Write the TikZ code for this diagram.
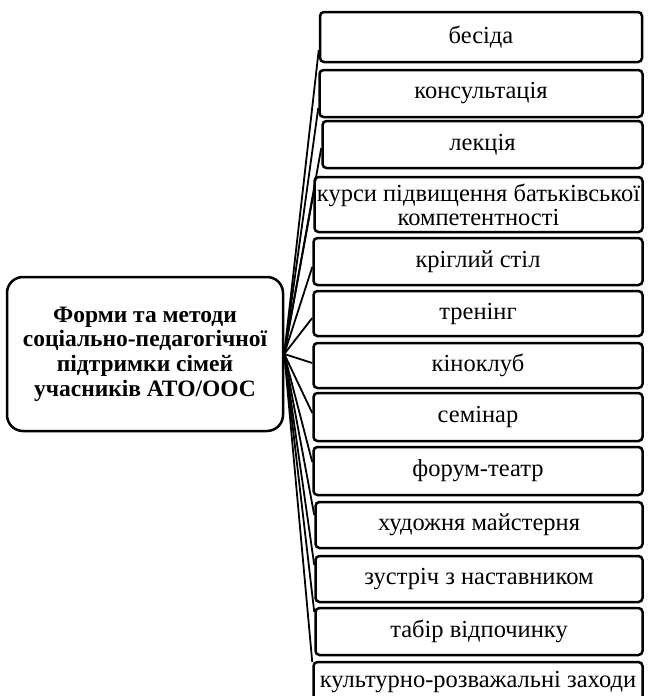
\documentclass[tikz,border=0pt]{standalone}
\usepackage{fontspec}
\setmainfont{Liberation Serif}
\begin{document}
\begin{tikzpicture}[x=1pt,y=-1pt,
  item/.style={draw=black,line width=2.5pt,rounded corners=4pt,fill=white,inner sep=0pt,
    align=center,font=\fontsize{24.5}{24}\selectfont},
  hub/.style={draw=black,line width=2.5pt,rounded corners=16pt,fill=white,inner sep=0pt,
    align=center,font=\fontsize{23.5}{24.7}\selectfont\bfseries},
  link/.style={draw=black,line width=1.8pt}]
\useasboundingbox (0,0) rectangle (649,696);
\node[hub,minimum width=276pt,minimum height=154pt] (c) at (145,354)
  {Форми та методи\\соціально-педагогічної\\підтримки сімей\\учасників АТО/ООС};
\coordinate (h) at (c.east);
\node[item,minimum width=322pt,minimum height=50pt] (b1) at (481,37) {бесіда};
\node[item,minimum width=323pt,minimum height=47pt] (b2) at (481,93.5) {консультація};
\node[item,minimum width=320pt,minimum height=47pt] (b3) at (482.5,144.5) {лекція};
\node[item,minimum width=328pt,minimum height=55pt] (b4) at (478.5,204.5) {курси підвищення батьківської\\компетентності};
\node[item,minimum width=329pt,minimum height=47pt] (b5) at (478,261.5) {кріглий стіл};
\node[item,minimum width=329pt,minimum height=45pt] (b6) at (478,313.5) {тренінг};
\node[item,minimum width=329pt,minimum height=45pt] (b7) at (478,365.5) {кіноклуб};
\node[item,minimum width=329pt,minimum height=48pt] (b8) at (478,417) {семінар};
\node[item,minimum width=329pt,minimum height=48pt] (b9) at (478,471) {форум-театр};
\node[item,minimum width=327pt,minimum height=46pt] (b10) at (479,525) {художня майстерня};
\node[item,minimum width=327pt,minimum height=46pt] (b11) at (479,579) {зустріч з наставником};
\node[item,minimum width=327pt,minimum height=47pt] (b12) at (479,631.5) {табір відпочинку};
\node[item,minimum width=329pt,minimum height=40pt] (b13) at (478,682) {культурно-розважальні заходи};
\draw[link] (h) -- ([yshift=-13pt]b1.west);
\draw[link] (h) -- ([yshift=-14.5pt]b2.west);
\draw[link] (h) -- ([yshift=-3.5pt]b3.west);
\draw[link] (h) -- ([yshift=9.5pt]b4.west);
\draw[link] (h) -- ([yshift=-5.5pt]b5.west);
\draw[link] (h) -- ([yshift=-4.5pt]b6.west);
\draw[link] (h) -- ([yshift=2.5pt]b7.west);
\draw[link] (h) -- ([yshift=4pt]b8.west);
\draw[link] (h) -- ([yshift=9pt]b9.west);
\draw[link] (h) -- ([yshift=10pt]b10.west);
\draw[link] (h) -- ([yshift=14pt]b11.west);
\draw[link] (h) -- ([yshift=19.5pt]b12.west);
\draw[link] (h) -- ([yshift=20pt]b13.west);
\end{tikzpicture}
\end{document}
